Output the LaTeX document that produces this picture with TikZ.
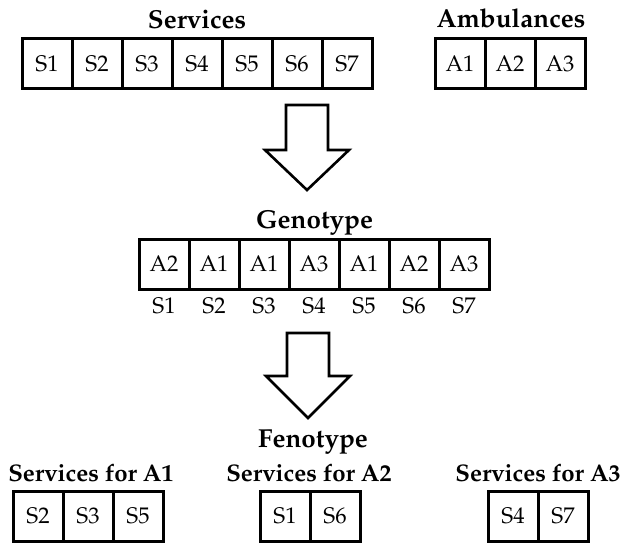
\documentclass[tikz,border=0pt]{standalone}
\usepackage[T1]{fontenc}
\usepackage{mathpazo}
\begin{document}
\begin{tikzpicture}[x=0.5pt,y=-0.5pt,
  cell/.style={rectangle,draw,line width=1.5pt,minimum width=25pt,minimum height=25pt,inner sep=0pt,font=\fontsize{11.3}{13}\selectfont},
  title/.style={anchor=base,inner sep=0pt,font=\fontsize{13}{15}\selectfont\bfseries},
  subtitle/.style={anchor=base,inner sep=0pt,font=\fontsize{12}{14}\selectfont\bfseries},
  gene/.style={anchor=base,inner sep=0pt,font=\fontsize{11.3}{13}\selectfont},
  bigarrow/.style={draw,line width=1.3pt,line join=miter}]
  \useasboundingbox (0,0) rectangle (621,543);

  % services and ambulances
  \node[title] (services) at (197, 28) {Services};
  \node[cell] (s1) at (47, 63.5) {S1};
  \node[cell] (s2) at (97, 63.5) {S2};
  \node[cell] (s3) at (147, 63.5) {S3};
  \node[cell] (s4) at (197, 63.5) {S4};
  \node[cell] (s5) at (247, 63.5) {S5};
  \node[cell] (s6) at (297, 63.5) {S6};
  \node[cell] (s7) at (347, 63.5) {S7};

  \node[title] (ambulances) at (511, 27) {Ambulances};
  \node[cell] (a1) at (460, 63.5) {A1};
  \node[cell] (a2) at (510, 63.5) {A2};
  \node[cell] (a3) at (560, 63.5) {A3};

  \coordinate (arr1) at (307, 105);
  \draw[bigarrow] (arr1) ++(-21,0) -- ++(42,0) -- ++(0,45) -- ++(21,0)
    -- ++(-42,40) -- ++(-42,-40) -- ++(21,0) -- cycle;

  % genotype
  \node[title] (genotype) at (314.5, 228) {Genotype};
  \node[cell] (g1) at (164, 264) {A2};
  \node[cell] (g2) at (214, 264) {A1};
  \node[cell] (g3) at (264, 264) {A1};
  \node[cell] (g4) at (314, 264) {A3};
  \node[cell] (g5) at (364, 264) {A1};
  \node[cell] (g6) at (414, 264) {A2};
  \node[cell] (g7) at (464, 264) {A3};

  \node[gene] (l1) at (164, 313) {S1};
  \node[gene] (l2) at (214, 313) {S2};
  \node[gene] (l3) at (264, 313) {S3};
  \node[gene] (l4) at (314, 313) {S4};
  \node[gene] (l5) at (364, 313) {S5};
  \node[gene] (l6) at (414, 313) {S6};
  \node[gene] (l7) at (464, 313) {S7};

  \coordinate (arr2) at (308, 333);
  \draw[bigarrow] (arr2) ++(-21,0) -- ++(42,0) -- ++(0,43) -- ++(21,0)
    -- ++(-42,42) -- ++(-42,-42) -- ++(21,0) -- cycle;

  % fenotype
  \node[title] (fenotype) at (313, 447) {Fenotype};

  \node[subtitle] (forA1) at (91, 481) {Services for A1};
  \node[cell] (p1) at (38, 516) {S2};
  \node[cell] (p2) at (88, 516) {S3};
  \node[cell] (p3) at (138, 516) {S5};

  \node[subtitle] (forA2) at (309, 481) {Services for A2};
  \node[cell] (q1) at (285, 516) {S1};
  \node[cell] (q2) at (335, 516) {S6};

  \node[subtitle] (forA3) at (538, 481) {Services for A3};
  \node[cell] (r1) at (513, 516) {S4};
  \node[cell] (r2) at (563, 516) {S7};
\end{tikzpicture}
\end{document}
